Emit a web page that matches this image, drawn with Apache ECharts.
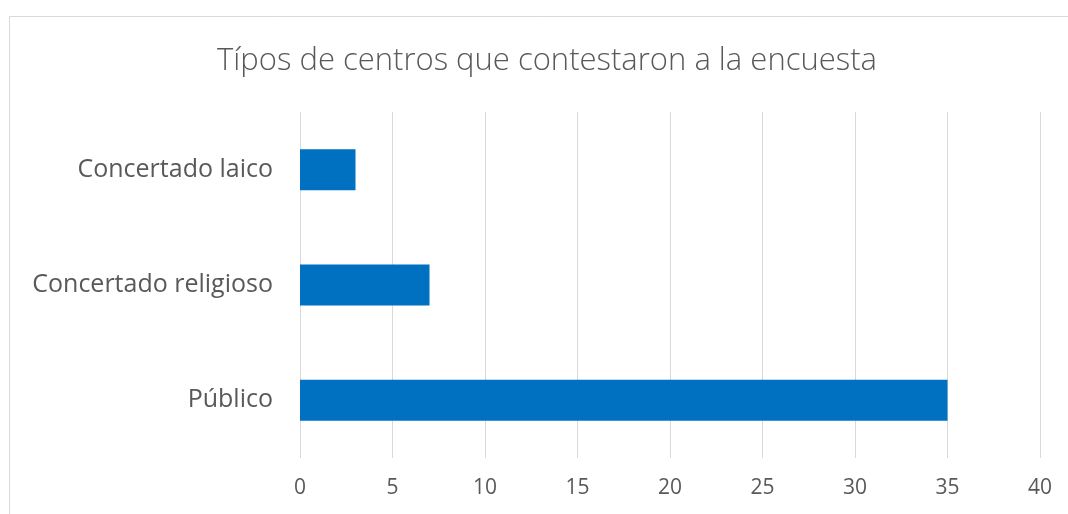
<!DOCTYPE html>
<html>
<head>
<meta charset="utf-8">
<script src="https://cdn.jsdelivr.net/npm/echarts@6/dist/echarts.min.js"></script>
<style>
  html, body { margin: 0; padding: 0; background: #fff; }
  #chart { width: 1068px; height: 514px; }
</style>
</head>
<body>
<div id="chart"></div>
<script>
const categories = ['Público', 'Concertado religioso', 'Concertado laico']
const values = [35, 7, 3]
const titleText = 'Típos de centros que contestaron a la encuesta'

const chart = echarts.init(document.getElementById('chart'))
chart.setOption({
  animation: false,
  graphic: [{
    type: 'rect',
    shape: { x: 9.5, y: 16.5, width: 1120, height: 600 },
    style: { fill: 'none', stroke: '#d9d9d9', lineWidth: 1 },
    silent: true
  }],
  title: {
    text: titleText,
    left: 542,
    top: 41,
    textAlign: 'center',
    textStyle: {
      fontFamily: 'Open Sans',
      fontWeight: 300,
      fontSize: 31,
      color: '#595959'
    }
  },
  grid: { left: 300, right: 28, top: 112, bottom: 56 },
  xAxis: {
    type: 'value',
    min: 0,
    max: 40,
    interval: 5,
    axisLine: { show: false },
    axisTick: { show: false },
    splitLine: { lineStyle: { color: '#d9d9d9', width: 1 } },
    axisLabel: {
      margin: 20,
      fontFamily: 'Open Sans',
      fontSize: 21,
      color: '#595959'
    }
  },
  yAxis: {
    type: 'category',
    data: categories,
    axisLine: { show: false },
    axisTick: { show: false },
    axisLabel: {
      margin: 27,
      fontFamily: 'Open Sans',
      fontSize: 25,
      color: '#595959'
    }
  },
  series: [{
    type: 'bar',
    data: values,
    barWidth: 41,
    itemStyle: { color: '#0070C0' }
  }]
})
</script>
</body>
</html>
